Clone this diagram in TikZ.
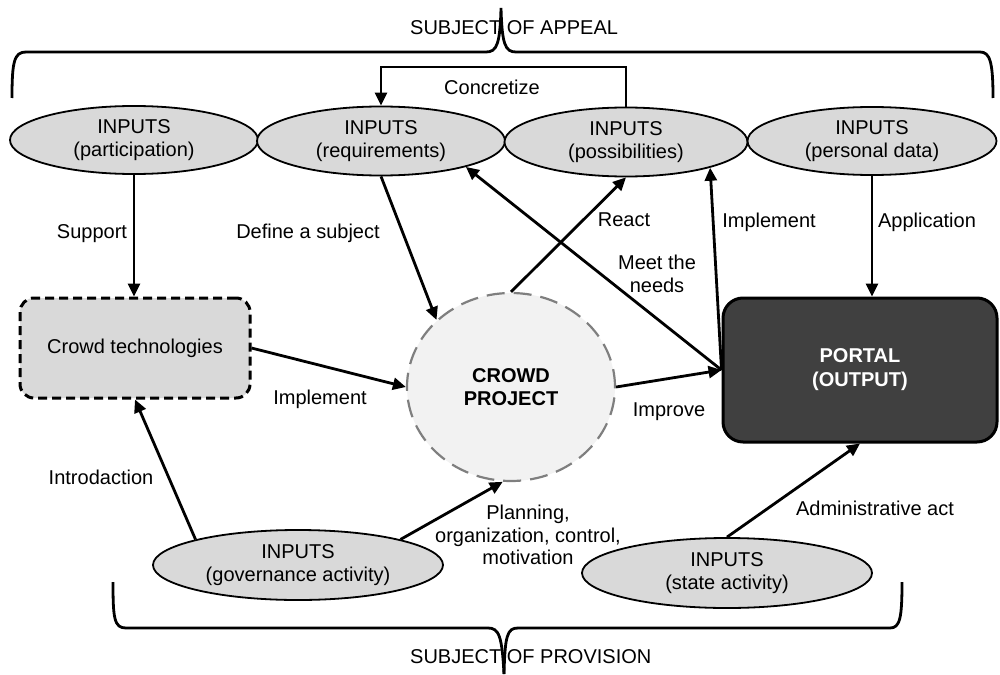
\documentclass[tikz,border=0pt]{standalone}
\usepackage{fontspec}
\setmainfont{Liberation Sans}
\usetikzlibrary{shapes.geometric,arrows.meta,calc}
\definecolor{inpgray}{HTML}{D9D9D9}
\definecolor{projfill}{HTML}{F2F2F2}
\definecolor{projline}{HTML}{7F7F7F}
\definecolor{portalfill}{HTML}{404040}
\begin{document}
\begin{tikzpicture}[x=1pt,y=-1pt,
  every node/.style={font=\fontsize{20}{22.5}\selectfont},
  inp/.style={ellipse,draw=black,line width=1.8pt,fill=inpgray,inner sep=0pt,align=center},
  arr/.style={line width=2.8pt,-{Triangle[length=13pt,width=12pt]}},
  lbl/.style={align=center,inner sep=0pt},
  brace/.style={line width=2.8pt}]
\useasboundingbox (0,0) rectangle (1000,674);

% input ellipses
\node[inp,minimum width=248pt,minimum height=68pt] (part) at (134,140) {INPUTS\\(participation)};
\node[inp,minimum width=248pt,minimum height=69pt] (req) at (381,141) {INPUTS\\(requirements)};
\node[inp,minimum width=243pt,minimum height=69pt] (poss) at (626,142) {INPUTS\\(possibilities)};
\node[inp,minimum width=249pt,minimum height=68pt] (pers) at (872,141) {INPUTS\\(personal data)};
\node[inp,minimum width=290pt,minimum height=70pt] (gov) at (298,565) {INPUTS\\(governance activity)};
\node[inp,minimum width=290pt,minimum height=70pt] (state) at (727,573) {INPUTS\\(state activity)};

% main nodes
\node[draw=black,line width=3pt,dash pattern=on 9pt off 5pt,rounded corners=14pt,fill=inpgray,
      minimum width=230pt,minimum height=100pt,inner sep=0pt] (tech) at (135,348) {Crowd technologies};
\node[ellipse,draw=projline,line width=2.2pt,dash pattern=on 18pt off 9pt,fill=projfill,
      minimum width=208pt,minimum height=188pt,inner sep=0pt,align=center,
      font=\fontsize{20}{22.5}\selectfont\bfseries] (proj) at (511,387) {CROWD\\PROJECT};
\node[draw=black,line width=3pt,rounded corners=20pt,fill=portalfill,text=white,
      minimum width=274pt,minimum height=144pt,inner sep=0pt,align=center,
      font=\fontsize{20}{24}\selectfont\bfseries] (portal) at (860,370) {PORTAL\\(OUTPUT)};

% connectors
\coordinate (ctop) at (500,67);
\draw[arr] (poss.north) |- (ctop) -| (req.north);
\draw[arr] (part.south) -- (part.south |- tech.north);
\draw[arr] (req.south) -- (proj.138);
\draw[arr] (proj.north) -- (poss.south);
\draw[arr] (portal.west) -- (req.-17);
\draw[arr] (portal.west) -- (poss.-17);
\draw[arr] (pers.south) -- (pers.south |- portal.north);
\draw[arr] (tech.east) -- (proj.west);
\draw[arr] (proj.east) -- (portal.west);
\draw[arr] (gov.14) -- (proj.-95);
\draw[arr] (gov.166) -- (tech.south);
\draw[arr] (state.north) -- (portal.south);

% labels
\node[lbl] (lconc) at (492,87) {Concretize};
\node[lbl] (lsup) at (92,234) {Support};
\node[lbl] (ldef) at (308,233) {Define a subject};
\node[lbl] (lreact) at (624,220) {React};
\node[lbl] (lmeet) at (657,274) {Meet the\\needs};
\node[lbl] (limp1) at (769,222) {Implement};
\node[lbl] (lapp) at (927,222) {Application};
\node[lbl] (limp2) at (320,399) {Implement};
\node[lbl] (limpr) at (669,412) {Improve};
\node[lbl] (lintro) at (101,477) {Introdaction};
\node[lbl] (lplan) at (528,535) {Planning,\\organization, control,\\motivation};
\node[lbl] (ladm) at (875,508) {Administrative act};

% braces
\draw[brace] (12,98) .. controls (12,62) and (14,52) .. (26,52) -- (486,52)
  .. controls (497,52) and (500,44) .. (501,8)
  .. controls (502,44) and (505,52) .. (516,52) -- (980,52)
  .. controls (990,52) and (993,62) .. (993,98);
\draw[brace] (113,582) .. controls (113,618) and (114,628) .. (126,628) -- (488,628)
  .. controls (499,628) and (502,636) .. (504,674);
\draw[brace] (504,674) .. controls (505,636) and (507,628) .. (518,628) -- (890,628)
  .. controls (900,628) and (902,618) .. (902,582);
\node[anchor=west,inner sep=0pt] (tappeal) at (410,28) {SUBJECT OF APPEAL};
\node[anchor=west,inner sep=0pt] (tprov) at (410,657) {SUBJECT OF PROVISION};
\end{tikzpicture}
\end{document}
